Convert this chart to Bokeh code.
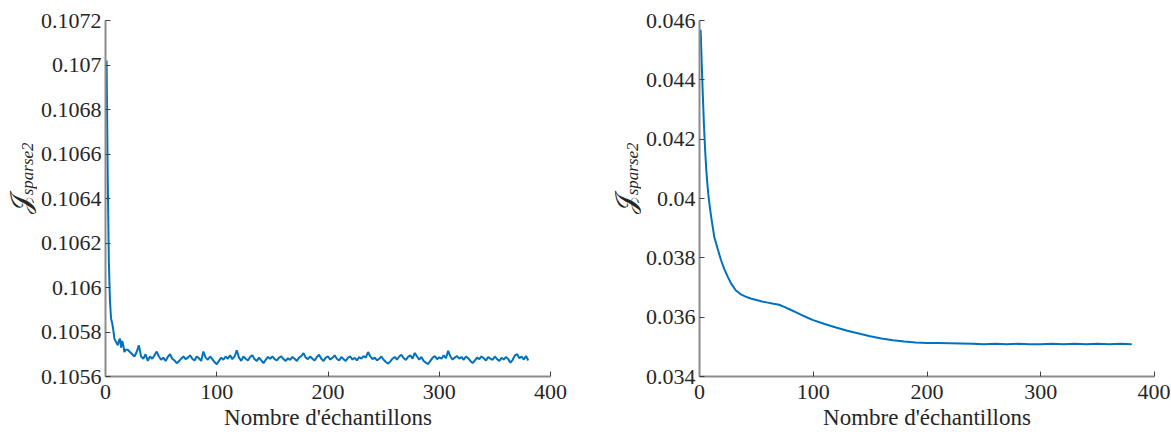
import math
from bokeh.plotting import figure
from bokeh.layouts import row
from bokeh.models import FixedTicker, CustomJSTickFormatter, Range1d
from bokeh.core.properties import value
from bokeh.embed import file_html
from bokeh.resources import INLINE

# ---------------- data ----------------
left_x = list(range(1, 19)) + list(range(20, 381, 2))
left_y = [
    0.10702, 0.10650, 0.10612, 0.10594, 0.10586, 0.10584, 0.10581, 0.10577, 0.10576,
    0.10575, 0.10574, 0.10576, 0.10577, 0.10573, 0.10576, 0.10574, 0.10571, 0.10572,
    # 20..38 step 2
    0.10572, 0.10571, 0.10570, 0.10569, 0.10571, 0.10574, 0.10569, 0.10568, 0.10570, 0.10567,
    # 40..
    0.105690, 0.105680, 0.105695, 0.105712, 0.105690, 0.105675, 0.105685, 0.105670, 0.105688, 0.105700,
    0.105680, 0.105672, 0.105660, 0.105668, 0.105680, 0.105690, 0.105678, 0.105685, 0.105695, 0.105680,
    0.105672, 0.105690, 0.105682, 0.105670, 0.105712, 0.105685, 0.105675, 0.105690, 0.105678, 0.105665,
    0.105655, 0.105670, 0.105685, 0.105675, 0.105690, 0.105680, 0.105695, 0.105678, 0.105690, 0.105718,
    0.105685, 0.105670, 0.105690, 0.105680, 0.105672, 0.105688, 0.105695, 0.105678, 0.105670, 0.105685,
    0.105672, 0.105660, 0.105675, 0.105688, 0.105680, 0.105690, 0.105678, 0.105672, 0.105685, 0.105690,
    0.105678, 0.105670, 0.105682, 0.105675, 0.105688, 0.105680, 0.105670, 0.105685, 0.105692, 0.105705,
    0.105685, 0.105678, 0.105690, 0.105680, 0.105672, 0.105688, 0.105698, 0.105680, 0.105670, 0.105685,
    0.105690, 0.105676, 0.105684, 0.105695, 0.105680, 0.105672, 0.105688, 0.105678, 0.105670, 0.105685,
    0.105690, 0.105676, 0.105684, 0.105672, 0.105688, 0.105680, 0.105692, 0.105685, 0.105710, 0.105690,
    0.105678, 0.105685, 0.105672, 0.105680, 0.105690, 0.105675, 0.105665, 0.105658, 0.105668, 0.105680,
    0.105688, 0.105676, 0.105690, 0.105698, 0.105682, 0.105675, 0.105688, 0.105695, 0.105680, 0.105706,
    0.105690, 0.105676, 0.105688, 0.105670, 0.105662, 0.105656, 0.105670, 0.105684, 0.105692, 0.105678,
    0.105686, 0.105680, 0.105695, 0.105682, 0.105715, 0.105690, 0.105676, 0.105685, 0.105692, 0.105680,
    0.105688, 0.105675, 0.105690, 0.105682, 0.105670, 0.105660, 0.105672, 0.105685, 0.105678, 0.105690,
    0.105682, 0.105672, 0.105688, 0.105680, 0.105675, 0.105690, 0.105678, 0.105670, 0.105684, 0.105676,
    0.105688, 0.105678, 0.105662, 0.105675, 0.105695, 0.105700, 0.105682, 0.105690, 0.105676, 0.105692,
    0.105672,
]

right_x = [1, 2, 3, 4, 5, 6, 7, 8, 10, 13, 16, 19, 22, 25, 28, 32, 36, 40, 45, 50, 55, 60,
           65, 70, 75, 80, 85, 90, 95, 100, 110, 120, 130, 140, 150, 160, 170, 180, 190,
           200, 210, 220, 230, 240, 250, 260, 270, 280, 290, 300, 310, 320, 330, 340,
           350, 360, 370, 380]
right_y = [0.04569, 0.04450, 0.04340, 0.04240, 0.04160, 0.04095, 0.04045, 0.04005, 0.03945,
           0.03870, 0.03830, 0.03791, 0.03760, 0.03735, 0.03712, 0.03690, 0.03678, 0.03670,
           0.03663, 0.03658, 0.03653, 0.03649, 0.03645, 0.03642, 0.03634, 0.03625, 0.03616,
           0.03607, 0.03598, 0.03590, 0.03577, 0.03565, 0.03554, 0.03545, 0.03536, 0.03528,
           0.03522, 0.03518, 0.03515, 0.03513, 0.03513, 0.03512, 0.03511, 0.03510, 0.03509,
           0.03510, 0.03509, 0.03510, 0.03509, 0.03509, 0.03510, 0.03509, 0.03510, 0.03509,
           0.03510, 0.03509, 0.03510, 0.03509]

x_ticks = [0, 100, 200, 300, 400]
left_y_ticks = [0.1056, 0.1058, 0.106, 0.1062, 0.1064, 0.1066, 0.1068, 0.107, 0.1072]
right_y_ticks = [0.034, 0.036, 0.038, 0.04, 0.042, 0.044, 0.046]

XLABEL = "Nombre d'échantillons"
YLABEL_MAIN = "𝒥"
YLABEL_SUB = "sparse2"

FONT = "'Liberation Serif'"
TXT = "#262626"
LINE = "#0072BD"
H = 432


def make_fig(xs, ys, yticks, ydigits, width, left, right):
    p = figure(width=width, height=H, output_backend="svg", toolbar_location=None,
               x_range=Range1d(0, 400), y_range=Range1d(yticks[0], yticks[-1]),
               min_border_left=left, min_border_right=right,
               min_border_top=20, min_border_bottom=56)
    p.line(xs, ys, line_color=LINE, line_width=2)
    p.grid.visible = False
    p.outline_line_color = None
    p.xaxis.ticker = FixedTicker(ticks=x_ticks)
    p.yaxis.ticker = FixedTicker(ticks=yticks)
    p.yaxis.formatter = CustomJSTickFormatter(
        code="return String(parseFloat(tick.toFixed(%d)));" % ydigits)
    for ax in (p.xaxis[0], p.yaxis[0]):
        ax.axis_line_color = "#8c8c8c"
        ax.axis_line_width = 2
        ax.major_tick_line_color = "#404040"
        ax.major_tick_in = 5
        ax.major_tick_out = 0
        ax.minor_tick_line_color = None
        ax.major_label_text_font = FONT
        ax.major_label_text_font_size = "22px"
        ax.major_label_text_color = TXT
    p.yaxis.major_label_standoff = 4
    p.xaxis.major_label_standoff = 8
    p.xaxis.axis_label = XLABEL
    p.xaxis.axis_label_text_font = FONT
    p.xaxis.axis_label_text_font_size = "23px"
    p.xaxis.axis_label_text_font_style = "normal"
    p.xaxis.axis_label_text_color = TXT
    p.xaxis.axis_label_standoff = 3
    return p


def label_fig(width, jx, sx):
    f = figure(width=width, height=H, output_backend="svg", toolbar_location=None,
               x_range=Range1d(0, width), y_range=Range1d(0, H),
               x_axis_type=None, y_axis_type=None, min_border=0)
    f.grid.visible = False
    f.outline_line_color = None
    f.text(x=[jx], y=[H - 223], text=[YLABEL_MAIN], angle=math.pi / 2,
           text_font=value("DejaVu Serif"), text_font_size="28px",
           text_color=TXT, text_align="center", text_baseline="middle")
    f.text(x=[sx], y=[H - 180], text=[YLABEL_SUB], angle=math.pi / 2,
           text_font=value(FONT), text_font_style="italic", text_font_size="17px",
           text_color=TXT, text_align="center", text_baseline="middle")
    return f


l1 = label_fig(37, 20, 27)
p1 = make_fig(left_x, left_y, left_y_ticks, 4, 546, 68, 33)
l2 = label_fig(58, 626 - 584, 633 - 584)
p2 = make_fig(right_x, right_y, right_y_ticks, 3, 529, 58, 16)

layout = row(l1, p1, l2, p2)
open("out.html", "w").write(file_html(layout, INLINE))
